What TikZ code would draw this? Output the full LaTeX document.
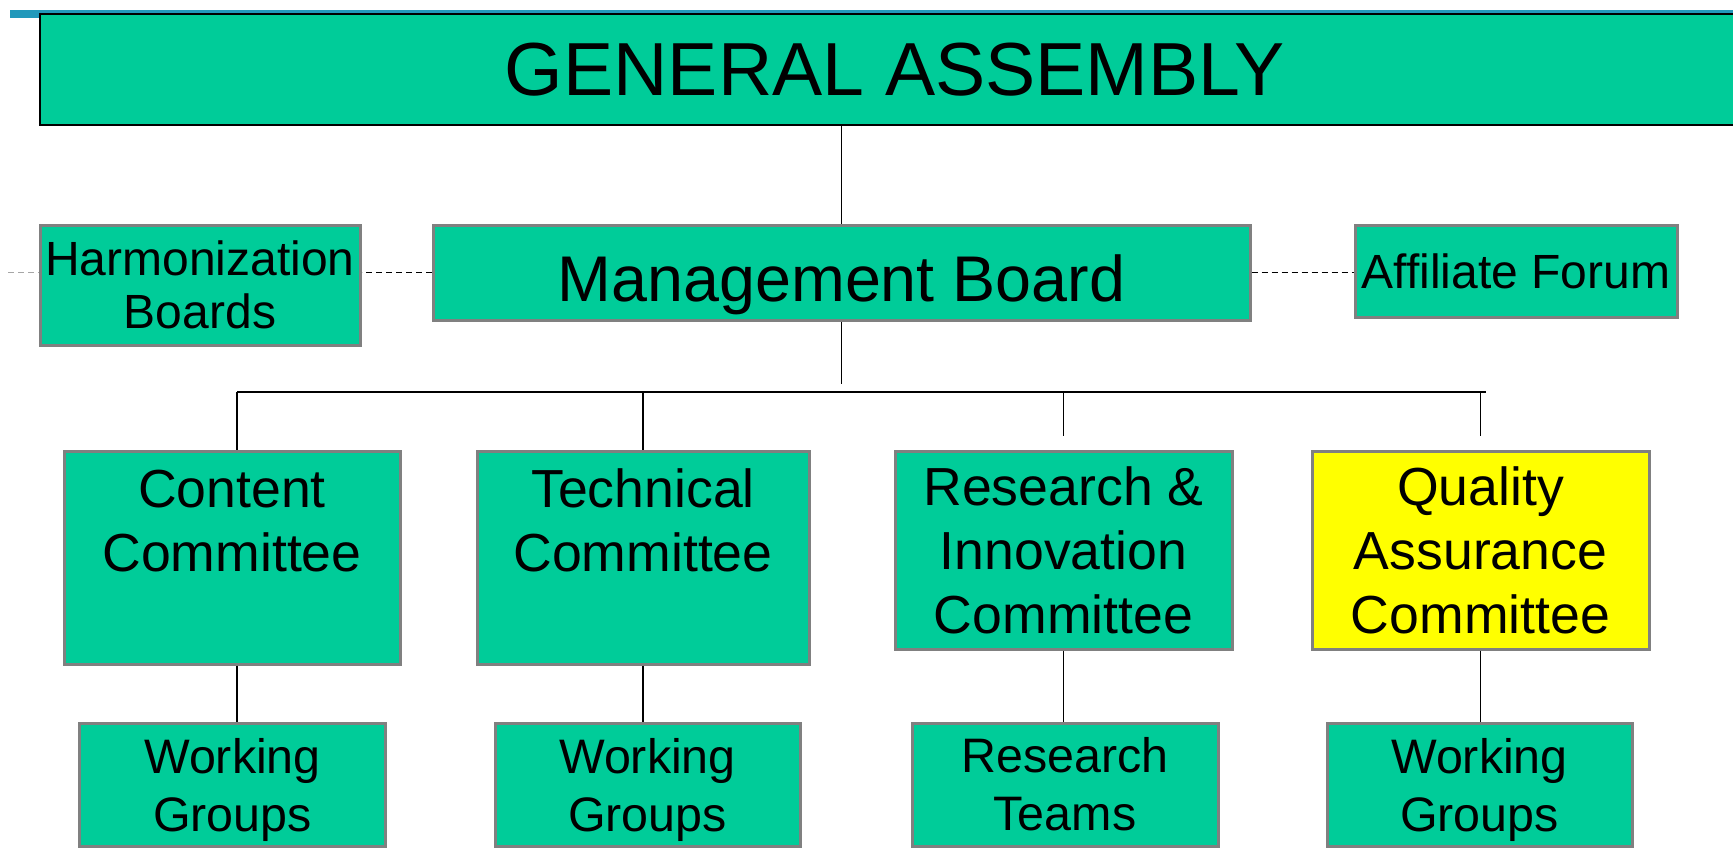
\documentclass[tikz,border=0pt]{standalone}
\usepackage{fontspec}
\setmainfont{Liberation Sans}

\definecolor{orggreen}{HTML}{00CC99}
\definecolor{qayellow}{HTML}{FFFF00}
\definecolor{boxgray}{HTML}{808080}
\definecolor{topblue}{HTML}{2299BB}

\tikzset{
  orgbox/.style={draw=boxgray, line width=1.5pt, fill=orggreen, inner sep=0pt, align=center},
  sidebox/.style={orgbox, minimum width=160pt, font=\fontsize{24pt}{26.5pt}\selectfont},
  cmtbox/.style={orgbox, minimum width=168pt, font=\fontsize{26.8pt}{32pt}\selectfont},
  subbox/.style={orgbox, minimum width=153pt, minimum height=61.5pt, font=\fontsize{24.2pt}{29pt}\selectfont},
  link/.style={line width=0.75pt},
  dashlink/.style={line width=0.75pt, dash pattern=on 3pt off 2pt}
}

\begin{document}
\begin{tikzpicture}[x=0.5pt, y=-0.5pt]
    \useasboundingbox (0,0) rectangle (1733,858);

    % Top bar and assembly
    \fill[topblue] (10,10) rectangle (1733,18);
    \node[orgbox, draw=black, line width=1pt, minimum width=855pt, minimum height=55.5pt,
          font=\fontsize{37.6pt}{45pt}\selectfont] (ga) at (895,69.5) {GENERAL ASSEMBLY};

    % Board level
    \node[orgbox, minimum width=408.5pt, minimum height=47.5pt, text height=28.5pt, text depth=0pt,
          font=\fontsize{32.3pt}{38pt}\selectfont] (mb) at (841.5,272.5) {Management Board};
    \node[sidebox, minimum height=60pt] (harm) at (200,285) {Harmonization\\Boards};
    \node[sidebox, minimum width=161pt, minimum height=46pt] (aff) at (1516,271) {Affiliate Forum};

    % Committees
    \node[cmtbox, minimum height=106.5pt] (cc) at (232,557.5) {Content\\Committee\\[5pt]\mbox{}};
    \node[cmtbox, minimum width=166pt, minimum height=106.5pt] (tc) at (643,557.5) {Technical\\Committee\\[5pt]\mbox{}};
    \node[cmtbox, minimum width=168.5pt, minimum height=99pt] (rc) at (1063.5,550) {Research \&\\Innovation\\Committee};
    \node[cmtbox, minimum width=168.5pt, minimum height=99pt, fill=qayellow] (qa) at (1480.5,550) {Quality\\Assurance\\Committee};

    % Groups and teams
    \node[subbox] (wg1) at (232.5,784.5) {Working\\\smash{Groups}};
    \node[subbox, minimum width=152.5pt] (wg2) at (647.5,784.5) {Working\\\smash{Groups}};
    \node[subbox] (rt) at (1065,784.5) {Research\\Teams};
    \node[subbox, minimum width=152.5pt] (wg4) at (1479.5,784.5) {Working\\\smash{Groups}};

    % Connectors
    \coordinate (busL) at (237,392);
    \coordinate (busR) at (1486,392);
    \coordinate (lft) at (8,272.5);
    \draw[link] (mb.north |- ga.south) -- (mb.north);
    \draw[link] (mb.south) -- ([yshift=4pt]mb.south |- busL);
    \draw[link] (busL) -- (busR);
    \draw[link] (busL) -- (busL |- cc.north);
    \draw[link] (tc.north |- busL) -- (tc.north);
    \draw[link] (rc.north |- busL) -- ([yshift=7pt]rc.north);
    \draw[link] (qa.north |- busL) -- ([yshift=7pt]qa.north);
    \draw[link] (busL |- cc.south) -- (busL |- wg1.north);
    \draw[link] (tc.south) -- (tc.south |- wg2.north);
    \draw[link] (rc.south) -- (rc.south |- rt.north);
    \draw[link] (qa.south) -- (qa.south |- wg4.north);

    % Dashed links
    \draw[dashlink] (mb.west) -- (mb.west -| harm.east);
    \draw[dashlink] (mb.east) -- (mb.east -| aff.west);
    \draw[dashlink, gray!70] (lft) -- (lft -| harm.west);
\end{tikzpicture}
\end{document}
